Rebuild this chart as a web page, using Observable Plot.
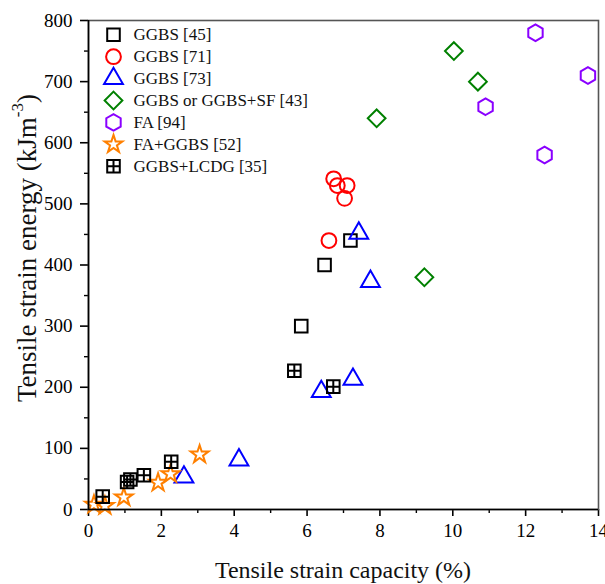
<!DOCTYPE html>
<html><head><meta charset="utf-8">
<script src="https://cdn.jsdelivr.net/npm/d3@7"></script>
<script src="https://cdn.jsdelivr.net/npm/@observablehq/plot@0.6"></script>
<style>html,body{margin:0;padding:0;background:#fff}</style>
</head><body><div id="chart"></div>
<script>
// ---- data (x: tensile strain capacity %, y: tensile strain energy kJ/m3)
const seriesNames = ["GGBS [45]", "GGBS [71]", "GGBS [73]", "GGBS or GGBS+SF [43]", "FA [94]", "FA+GGBS [52]", "GGBS+LCDG [35]"];
const ggbs45X = [5.84, 6.48, 7.19];
const ggbs45Y = [300, 400, 440];
const ggbs71X = [6.60, 6.73, 6.83, 7.10, 7.03];
const ggbs71Y = [440, 541, 530, 530, 509];
const ggbs73X = [2.62, 4.13, 6.39, 7.26, 7.42, 7.74];
const ggbs73Y = [53, 81, 193, 213, 452, 373];
const sf43X = [7.91, 9.22, 10.03, 10.69];
const sf43Y = [640, 380, 750, 700];
const fa94X = [10.90, 12.27, 12.52, 13.71];
const fa94Y = [659, 780, 580, 710];
const faGgbs52X = [0.15, 0.45, 0.97, 1.91, 2.25, 3.05];
const faGgbs52Y = [8, 6, 20, 44, 58, 90];
const lcdg35X = [0.39, 1.06, 1.15, 1.52, 2.27, 5.65, 6.72];
const lcdg35Y = [21, 45, 49, 56, 78, 227, 201];
const xTicks = [0, 2, 4, 6, 8, 10, 12, 14];
const xMinorTicks = [1, 3, 5, 7, 9, 11, 13];
const yTicks = [0, 100, 200, 300, 400, 500, 600, 700, 800];
const yMinorTicks = [50, 150, 250, 350, 450, 550, 650, 750];

// custom symbol: square with a plus inside
const squarePlus = {
  draw(ctx, size) {
    const s = Math.sqrt(size) / 2;
    ctx.moveTo(-s, -s); ctx.lineTo(s, -s); ctx.lineTo(s, s); ctx.lineTo(-s, s); ctx.closePath();
    ctx.moveTo(0, -s); ctx.lineTo(0, s);
    ctx.moveTo(-s, 0); ctx.lineTo(s, 0);
  }
};

const rows = (xs, ys) => xs.map((x, i) => ({x, y: ys[i]}));
const series = [
  {name: seriesNames[0], data: rows(ggbs45X, ggbs45Y), symbol: "square", stroke: "#000000", r: 7.1},
  {name: seriesNames[1], data: rows(ggbs71X, ggbs71Y), symbol: "circle", stroke: "#ff0000", r: 7.4},
  {name: seriesNames[2], data: rows(ggbs73X, ggbs73Y), symbol: "triangle", stroke: "#0000ff", r: 7.0},
  {name: seriesNames[3], data: rows(sf43X, sf43Y), symbol: "diamond2", stroke: "#008000", r: 8.0},
  {name: seriesNames[4], data: rows(fa94X, fa94Y), symbol: "hexagon", stroke: "#8a00ff", r: 7.2},
  {name: seriesNames[5], data: rows(faGgbs52X, faGgbs52Y), symbol: "star", stroke: "#ff8000", r: 5.6},
  {name: seriesNames[6], data: rows(lcdg35X, lcdg35Y), symbol: squarePlus, stroke: "#000000", r: 7.1}
];

const W = 605, H = 584, mL = 88, mR = 7, mT = 20, mB = 75;
const legendDx = 25, legendDy0 = 14.3, legendStep = 21.9, legendTextDx = 45;

const marks = [
  Plot.axisX({ticks: xTicks, tickSize: 7, tickPadding: 7, label: null, strokeWidth: 1.6, fontSize: 19}),
  Plot.axisX({ticks: xMinorTicks, tickSize: 4, text: null, label: null, strokeWidth: 1.4}),
  Plot.axisY({ticks: yTicks, tickSize: 8, tickPadding: 8, label: null, strokeWidth: 1.6, fontSize: 19}),
  Plot.axisY({ticks: yMinorTicks, tickSize: 4, text: null, label: null, strokeWidth: 1.4}),
  ...series.map(s => Plot.dot(s.data, {x: "x", y: "y", symbol: () => s.symbol, r: s.r, stroke: s.stroke, strokeWidth: 2, fill: "none"})),
  Plot.frame({stroke: "#555", strokeWidth: 1.6}),
  Plot.ruleX([0], {stroke: "#000", strokeWidth: 1.6}),
  Plot.ruleY([0], {stroke: "#000", strokeWidth: 1.6}),
  ...series.map((s, i) => Plot.dot([s], {frameAnchor: "top-left", dx: legendDx, dy: legendDy0 + i * legendStep, symbol: () => s.symbol, r: s.r, stroke: s.stroke, strokeWidth: 2, fill: "none"})),
  ...series.map((s, i) => Plot.text([s], {frameAnchor: "top-left", dx: legendTextDx, dy: legendDy0 + i * legendStep, text: "name", textAnchor: "start", fontSize: 17, lineAnchor: "middle", fill: "#111"}))
];

const plot = Plot.plot({
  width: W, height: H,
  marginLeft: mL, marginRight: mR, marginTop: mT, marginBottom: mB,
  x: {domain: [0, 14]},
  y: {domain: [0, 800]},
  symbol: {type: "identity"},
  style: {fontFamily: "'Liberation Serif', 'Times New Roman', serif", fontSize: "19px", color: "#000", background: "#fff", overflow: "visible"},
  marks
});

const svg = d3.select(plot);
const cx = mL + (W - mL - mR) / 2;
svg.append("text")
  .attr("x", cx).attr("y", 570)
  .attr("text-anchor", "middle").attr("dominant-baseline", "central")
  .attr("font-size", 24).attr("fill", "#111")
  .text("Tensile strain capacity (%)");
const yt = svg.append("text")
  .attr("transform", "translate(27,248) rotate(-90)")
  .attr("text-anchor", "middle").attr("dominant-baseline", "central")
  .attr("font-size", 27).attr("fill", "#111");
yt.append("tspan").text("Tensile strain energy (kJm");
yt.append("tspan").attr("font-size", 17).attr("dy", -10).text("-3");
yt.append("tspan").attr("dy", 10).text(")");
document.getElementById("chart").appendChild(plot);
</script>
</body></html>
